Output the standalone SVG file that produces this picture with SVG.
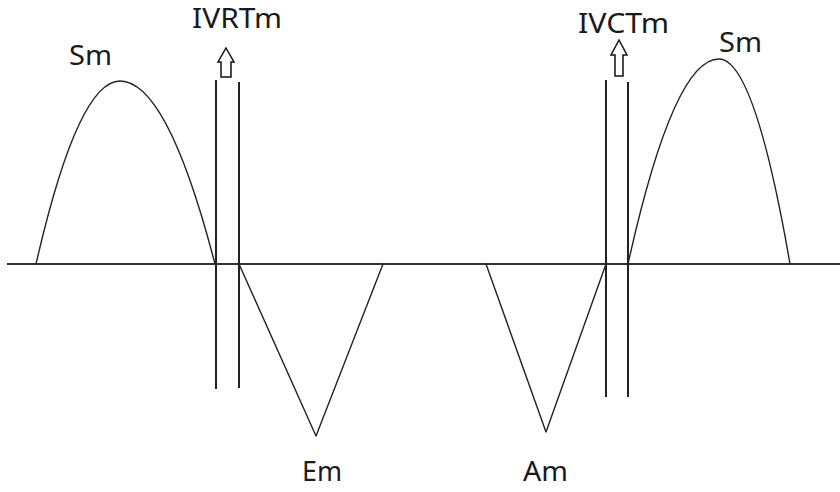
<svg xmlns="http://www.w3.org/2000/svg" width="840" height="492" viewBox="0 0 840 492">
<style>
.lbl{font-family:"Noto Sans","Open Sans","Liberation Sans",sans-serif;font-size:27px;fill:#1a1a1a}
.curve{fill:none;stroke:#222;stroke-width:1.4;stroke-linejoin:round}
.axis{fill:none;stroke:#333;stroke-width:2}
.vline{fill:none;stroke:#222;stroke-width:2}
.arrow{fill:#fff;stroke:#111;stroke-width:1.5;stroke-linejoin:miter}
</style>
<rect width="840" height="492" fill="#fff"/>
<g id="connectors">
<line class="axis" x1="7" y1="264" x2="840" y2="264"/>
</g>
<g id="sm-left">
<path class="curve" d="M36,264 Q78,81 120,81 Q167.5,81 215,264"/>
<text class="lbl" x="69" y="65" textLength="43" lengthAdjust="spacingAndGlyphs">Sm</text>
</g>
<g id="ivrt">
<line class="vline" x1="216" y1="80" x2="216" y2="389"/>
<line class="vline" x1="239" y1="82" x2="239" y2="388"/>
<polygon class="arrow" points="226,48 234,62 231,62 231,77 221,77 221,62 218,62"/>
<text class="lbl" x="192" y="28" textLength="90" lengthAdjust="spacingAndGlyphs">IVRTm</text>
</g>
<g id="em">
<polyline class="curve" points="239,264 316,436 383,264"/>
<text class="lbl" x="302" y="481" textLength="40" lengthAdjust="spacingAndGlyphs">Em</text>
</g>
<g id="am">
<polyline class="curve" points="486,264 546,432 606,264"/>
<text class="lbl" x="523" y="481" textLength="45" lengthAdjust="spacingAndGlyphs">Am</text>
</g>
<g id="ivct">
<line class="vline" x1="606" y1="80" x2="606" y2="397"/>
<line class="vline" x1="628" y1="82" x2="628" y2="397"/>
<polygon class="arrow" points="619,40 627,55 623,55 623,76 615,76 615,55 611,55"/>
<text class="lbl" x="578" y="33" textLength="91" lengthAdjust="spacingAndGlyphs">IVCTm</text>
</g>
<g id="sm-right">
<path class="curve" d="M628,264 Q673.5,59 719,59 Q754.5,59 790,264"/>
<text class="lbl" x="719" y="52" textLength="43" lengthAdjust="spacingAndGlyphs">Sm</text>
</g>
</svg>
